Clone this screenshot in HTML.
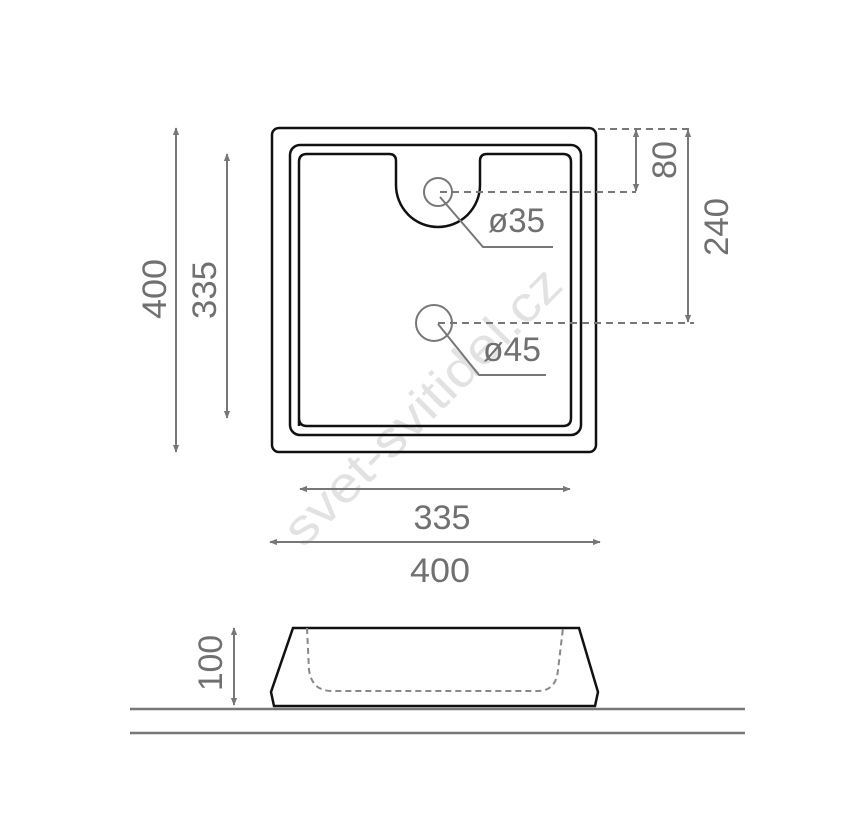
<!DOCTYPE html>
<html><head><meta charset="utf-8"><style>
html,body{margin:0;padding:0;background:#fff;}
svg{display:block;}
text{font-family:"Liberation Sans",sans-serif;fill:#707070;}
</style></head><body>
<svg width="845" height="814" viewBox="0 0 845 814" xmlns="http://www.w3.org/2000/svg">
<defs>
<marker id="a" viewBox="0 0 10 10" refX="9" refY="5" markerWidth="8" markerHeight="8" orient="auto-start-reverse" markerUnits="userSpaceOnUse">
<path d="M0,1 L10,5 L0,9 Z" fill="#777"/></marker>
</defs>
<!-- watermark -->
<text x="423" y="423" font-size="50" text-anchor="middle" textLength="370" lengthAdjust="spacingAndGlyphs" transform="rotate(-45 423 407)" style="fill:#e2e2e2">svet-svitidel.cz</text>
<!-- plan -->
<g fill="none" stroke="#111" stroke-width="2.5">
<rect x="272" y="128" width="324" height="324" rx="7"/>
<rect x="290" y="145" width="291" height="290" rx="10"/>
<path d="M299,426 L299,162 Q299,154 307,154 L389,154 Q396,154 396,161 L396,185 A42,42 0 0 0 480,185 L480,161 Q480,154 487,154 L563,154 Q571,154 571,162 L571,418 Q571,426 563,426 L307,426 Q299,426 299,418 Z"/>
</g>
<g fill="none" stroke="#777" stroke-width="2">
<circle cx="438" cy="192" r="14"/>
<circle cx="434" cy="323" r="18"/>
<polyline points="440,197 483,247 553,247"/>
<polyline points="438,324 479,375 546,375"/>
</g>
<g fill="none" stroke="#777" stroke-width="2" stroke-dasharray="7,5">
<line x1="440" y1="192" x2="636" y2="192"/>
<line x1="438" y1="323" x2="694" y2="323"/>
<line x1="598" y1="129" x2="694" y2="129"/>
</g>
<g stroke="#777" stroke-width="2" marker-start="url(#a)" marker-end="url(#a)">
<line x1="636" y1="130" x2="636" y2="191"/>
<line x1="688" y1="130" x2="688" y2="322"/>
<line x1="176" y1="128" x2="176" y2="452"/>
<line x1="227" y1="154" x2="227" y2="418"/>
<line x1="300" y1="489" x2="570" y2="489"/>
<line x1="270" y1="542" x2="600" y2="542"/>
<line x1="234" y1="628" x2="234" y2="705"/>
</g>
<text x="488" y="232" font-size="34" textLength="57" lengthAdjust="spacingAndGlyphs">ø35</text>
<text x="483" y="361" font-size="34" textLength="58" lengthAdjust="spacingAndGlyphs">ø45</text>
<text transform="translate(676,160) rotate(-90)" font-size="34" text-anchor="middle" textLength="38" lengthAdjust="spacingAndGlyphs">80</text>
<text transform="translate(728,227) rotate(-90)" font-size="34" text-anchor="middle" textLength="58" lengthAdjust="spacingAndGlyphs">240</text>
<text transform="translate(166,289) rotate(-90)" font-size="34" text-anchor="middle" textLength="60" lengthAdjust="spacingAndGlyphs">400</text>
<text transform="translate(216,290) rotate(-90)" font-size="34" text-anchor="middle" textLength="58" lengthAdjust="spacingAndGlyphs">335</text>
<text x="442" y="529" font-size="34" text-anchor="middle" textLength="57" lengthAdjust="spacingAndGlyphs">335</text>
<text x="440" y="582" font-size="34" text-anchor="middle" textLength="60" lengthAdjust="spacingAndGlyphs">400</text>
<text transform="translate(222,663) rotate(-90)" font-size="34" text-anchor="middle" textLength="56" lengthAdjust="spacingAndGlyphs">100</text>
<!-- side view -->
<g stroke="#777" stroke-width="2.5">
<line x1="130" y1="709" x2="745" y2="709"/>
<line x1="130" y1="733" x2="745" y2="733"/>
</g>
<path d="M293,628 L579,628 L598,692 L595,706 L274,706 L271,692 Z" fill="none" stroke="#111" stroke-width="2.5"/>
<path d="M307,628 L309,670 Q312,691 332,691 L538,691 Q556,691 558,670 L563,628" fill="none" stroke="#888" stroke-width="2" stroke-dasharray="6,4"/>
</svg>
</body></html>
